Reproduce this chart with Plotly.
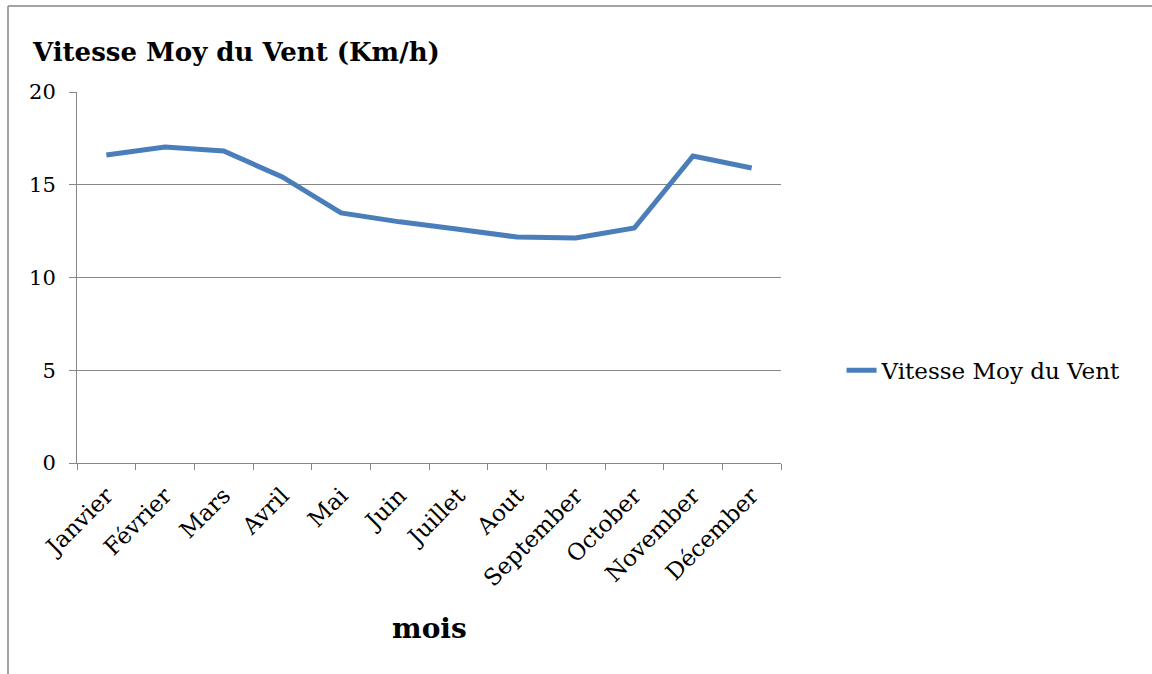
import plotly.graph_objects as go

months = ["Janvier", "Février", "Mars", "Avril", "Mai", "Juin", "Juillet",
          "Aout", "September", "October", "November", "Décember"]
vitesse = [16.6, 17.03, 16.82, 15.42, 13.48, 13.0, 12.6, 12.18, 12.13, 12.67, 16.55, 15.9]
y_ticks = [0, 5, 10, 15, 20]

grey = "#868686"
blue = "#4A7EBB"

fig = go.Figure()
fig.add_trace(go.Scatter(
    x=months, y=vitesse, mode="lines", name="Vitesse Moy du Vent",
    line=dict(color=blue, width=5),
))

fig.update_layout(
    width=1152, height=674,
    paper_bgcolor="white", plot_bgcolor="white",
    margin=dict(l=77, r=371, t=92, b=211),
    showlegend=True,
    legend=dict(x=1.086, y=0.25, xanchor="left", yanchor="middle",
                font=dict(family="DejaVu Serif", size=23, color="black"),
                bgcolor="rgba(0,0,0,0)"),
    title=dict(text="<b>Vitesse Moy du Vent (Km/h)</b>", x=33/1152, xanchor="left",
               xref="container", y=1-52/674, yref="container", yanchor="middle",
               font=dict(family="DejaVu Serif", size=26, color="black")),
    font=dict(family="DejaVu Serif", color="black"),
)

fig.update_xaxes(
    type="category", tickangle=-45, tickson="boundaries", ticks="outside",
    ticklen=6, tickcolor=grey, showline=True, linecolor=grey, linewidth=1,
    showgrid=False, range=[-0.5, 11.5], ticklabelstandoff=9,
    tickfont=dict(family="DejaVu Serif", size=23, color="black"),
)
fig.update_yaxes(
    range=[0, 20], tickvals=y_ticks, ticks="outside", ticklen=7, tickcolor=grey,
    showline=True, linecolor=grey, linewidth=1, showgrid=True, gridcolor=grey,
    gridwidth=1, zeroline=False, ticklabelstandoff=9,
    tickfont=dict(family="DejaVu Serif", size=21, color="black"),
)

fig.add_annotation(text="<b>mois</b>", xref="paper", yref="paper",
                   x=0.501, y=(463-628)/371, xanchor="center", yanchor="middle",
                   showarrow=False,
                   font=dict(family="DejaVu Serif", size=28, color="black"))

# chart border (top and left edges)
fig.add_shape(type="line", xref="paper", yref="paper",
              x0=(8-77)/704, x1=(1160-77)/704, y0=(463-6)/371, y1=(463-6)/371,
              line=dict(color=grey, width=1.5), layer="below")
fig.add_shape(type="line", xref="paper", yref="paper",
              x0=(8-77)/704, x1=(8-77)/704, y0=(463-690)/371, y1=(463-6)/371,
              line=dict(color=grey, width=1.5), layer="below")

fig.write_html("out.html", config={"displayModeBar": False},
               post_script="document.body.style.margin='0';")
